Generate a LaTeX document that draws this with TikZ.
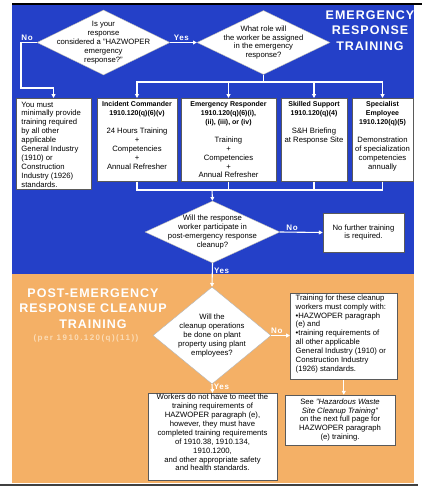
\documentclass[tikz,border=0pt]{standalone}
\usepackage{fontspec}
\setmainfont{Liberation Sans}
\usepackage{tikz}
\usetikzlibrary{shapes.geometric,shapes.misc,arrows.meta}
\definecolor{ER}{RGB}{36,64,200}
\definecolor{PC}{RGB}{244,176,102}
\definecolor{PCref}{RGB}{251,220,182}
\definecolor{rim}{RGB}{90,90,90}
\newcommand{\boxfont}{\fontsize{7.7}{8.9}\selectfont}
\newcommand{\headfont}{\fontsize{7}{8.9}\selectfont\bfseries}
\newcommand{\titlefont}{\fontsize{12.5}{15.5}\selectfont\bfseries\addfontfeatures{LetterSpace=8}}
\newcommand{\ansfont}{\fontsize{8}{8}\selectfont\bfseries\addfontfeatures{LetterSpace=8}}
\tikzset{
  decision/.style={diamond, fill=white, draw=gray!60, line width=0.4pt, inner sep=0pt},
  box/.style={rectangle, fill=white, draw=rim, line width=0.5pt, inner sep=0pt},
  octbox/.style={chamfered rectangle, chamfered rectangle xsep=13pt, chamfered rectangle ysep=17pt,
    fill=white, draw=rim, line width=0.5pt, inner sep=0pt},
  boxtxt/.style={font=\boxfont, inner xsep=5.5pt, inner ysep=3.5pt},
  qtxt/.style={font=\boxfont, align=center, inner sep=0pt},
  flow/.style={draw=white, line width=1.1pt},
  arr/.style={flow, -{Triangle[length=3.8pt,width=3.8pt]}},
  ans/.style={text=white, font=\ansfont, inner sep=1.2pt},
  title/.style={text=white, font=\titlefont, align=center}
}

\begin{document}
\begin{tikzpicture}[x=1pt,y=-1pt]
\useasboundingbox (0,0) rectangle (423,490);
% panels
\fill[ER] (12,5) rectangle (414,274);
\fill[PC] (12,274) rectangle (414,483);
\draw[line width=1.5pt] (12,4) -- (422,4);
\draw[line width=2pt, black!75] (0,484.5) -- (418,484.5);

\node[title] (ertitle) at (370,30.5) {EMERGENCY\\RESPONSE\\TRAINING};
\node[title] (pctitle) at (93,308.5) {POST-EMERGENCY\\RESPONSE CLEANUP\\TRAINING};
\node[text=PCref, font=\fontsize{8}{8}\selectfont\bfseries\addfontfeatures{LetterSpace=18}] (pcref) at (86,338) {(per 1910.120(q)(11))};

% questions
\node[decision, minimum width=133pt, minimum height=65pt] (q1) at (103.5,42.5) {};
\node[qtxt] (q1txt) at (q1) {Is your\\response\\considered a "HAZWOPER\\emergency\\response?"};
\node[decision, minimum width=133pt, minimum height=64pt] (q2) at (263.5,42.5) {};
\node[qtxt] (q2txt) at (q2) {What role will\\the worker be assigned\\in the emergency\\response?};
\node[decision, minimum width=135pt, minimum height=62pt] (q3) at (212.5,232) {};
\node[qtxt] (q3txt) at (q3) {Will the response\\worker participate in\\post-emergency response\\cleanup?};
\node[decision, minimum width=118pt, minimum height=97pt] (q4) at (212,335.5) {};
\node[qtxt] (q4txt) at (q4) {Will the\\cleanup operations\\be done on plant\\property using plant\\employees?};

% role boxes
\node[box, minimum width=75pt, minimum height=91pt, anchor=north] (boxA) at (53.5,98) {};
\node[boxtxt, align=left, anchor=north west] (boxAtxt) at (boxA.north west)
  {You must\\minimally provide\\training required\\by all other\\applicable\\General Industry\\(1910) or\\Construction\\Industry (1926)\\standards.};
\node[box, minimum width=80pt, minimum height=83pt, anchor=north] (boxB) at (137,98) {};
\node[boxtxt, align=center, anchor=north] (boxBtxt) at (boxB.north)
  {{\headfont Incident Commander}\\{\headfont 1910.120(q)(6)(v)}\\[8.9pt]24 Hours Training\\+\\Competencies\\+\\Annual Refresher};
\node[box, minimum width=95pt, minimum height=83pt, anchor=north] (boxC) at (228.5,98) {};
\node[boxtxt, align=center, anchor=north] (boxCtxt) at (boxC.north)
  {{\headfont Emergency Responder}\\{\headfont 1910.120(q)(6)(i),}\\{\headfont (ii), (iii), or (iv)}\\[8.9pt]Training\\+\\Competencies\\+\\Annual Refresher};
\node[box, minimum width=66pt, minimum height=83pt, anchor=north] (boxD) at (314,98) {};
\node[boxtxt, align=center, anchor=north] (boxDtxt) at (boxD.north)
  {{\headfont Skilled Support}\\{\headfont 1910.120(q)(4)}\\[8.9pt]S\&H Briefing\\at Response Site};
\node[box, minimum width=61pt, minimum height=83pt, anchor=north] (boxE) at (382.5,98) {};
\node[boxtxt, align=center, anchor=north] (boxEtxt) at (boxE.north)
  {{\headfont Specialist}\\{\headfont Employee}\\{\headfont 1910.120(q)(5)}\\[8.9pt]Demonstration\\of specialization\\competencies\\annually};

\node[box, minimum width=81pt, minimum height=39pt] (noneBox) at (363.5,232.5) {};
\node[qtxt] (noneTxt) at (noneBox) {No further training\\is required.};

% cleanup boxes
\node[box, minimum width=107pt, minimum height=86pt, anchor=north west] (cleanBox) at (290,293) {};
\node[boxtxt, inner ysep=1.5pt, align=left, anchor=north west] (cleanTxt) at (cleanBox.north west)
  {Training for these cleanup\\workers must comply with:\\•HAZWOPER paragraph\\(e) and\\•training requirements of\\all other applicable\\General Industry (1910) or\\Construction Industry\\(1926) standards.};
\node[box, minimum width=129pt, minimum height=87pt, anchor=north] (workBox) at (212.5,393) {};
\node[boxtxt, inner ysep=1pt, align=center, anchor=north] (workTxt) at (workBox.north)
  {Workers do not have to meet the\\training requirements of\\HAZWOPER paragraph (e),\\however, they must have\\completed training requirements\\of 1910.38, 1910.134,\\1910.1200,\\and other appropriate safety\\and health standards.};
\node[octbox, minimum width=110pt, minimum height=50pt] (seeBox) at (340,420) {};
\node[qtxt] (seeTxt) at (seeBox)
  {See \textit{"Hazardous Waste}\\\textit{Site Cleanup Training"}\\on the next full page for\\HAZWOPER paragraph\\(e) training.};

% connectors
\coordinate (noturn) at (21,88);
\coordinate (rolebus) at (263.5,82);
\coordinate (mergebus) at (212,190);
\draw[arr] (q1.west) -| node[ans, above, pos=0.31] (q1no) {No} (noturn) -| (boxA.north);
\draw[arr] (q1.east) -- node[ans, above, pos=0.42] (q1yes) {Yes} (q2.west);
\draw[flow] (q2.south) -- (rolebus);
\foreach \b in {boxB,boxC,boxD,boxE}{
  \draw[arr] (rolebus) -| (\b.north);
  \draw[flow] (\b.south) |- (mergebus);
}
\draw[arr] (mergebus) -- (q3.north);
\draw[arr] (q3.east) -- node[ans, above, pos=0.28] (q3no) {No} (noneBox.west);
\draw[arr] (q3.south) -- node[ans, right, pos=0.33] (q3yes) {Yes} (q4.north);
\draw[arr] (q4.east) -- node[ans, above, pos=0.3] (q4no) {No} (cleanBox.west |- q4.east);
\draw[arr] (q4.south) -- node[ans, right, pos=0.3] (q4yes) {Yes} (workBox.north);
\draw[arr] (cleanBox.south) -- (cleanBox.south |- seeBox.north);
\end{tikzpicture}
\end{document}
